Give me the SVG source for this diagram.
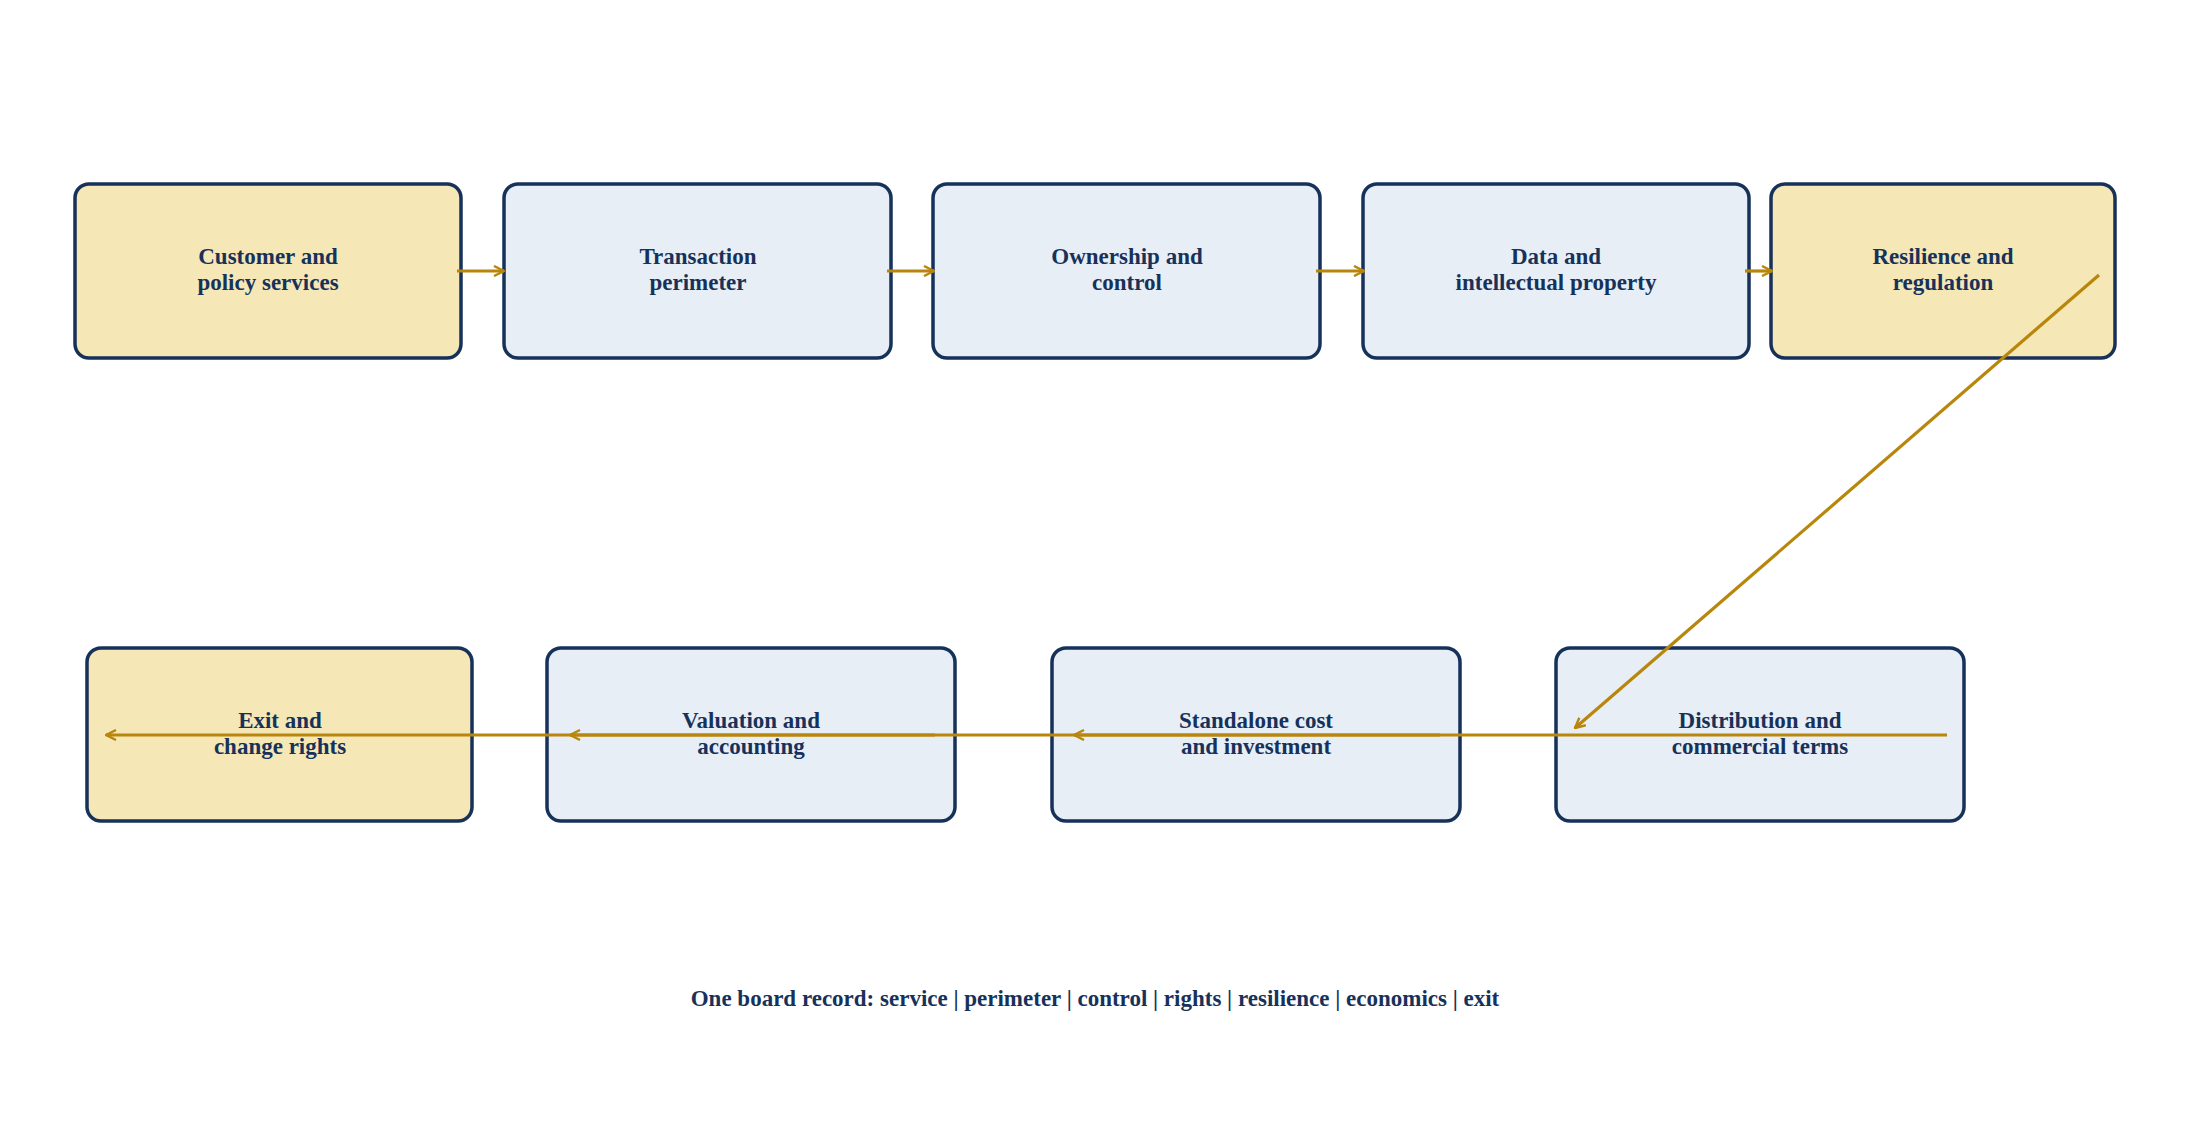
<svg xmlns="http://www.w3.org/2000/svg" width="2190" height="1134" viewBox="0 0 2190 1134">
<style>
.b{stroke:#17325a;stroke-width:3.5}
.y{fill:#f5e7b6}.l{fill:#e8eef6}
text{font-family:"Liberation Serif","Times New Roman",serif;font-weight:bold;font-size:23px;fill:#17325a;text-anchor:middle}
.c{stroke:#b8860b;stroke-width:3.2;fill:none;marker-end:url(#a)}
</style>
<defs><marker id="a" viewBox="0 0 12 12" refX="11" refY="6" markerWidth="12" markerHeight="12" markerUnits="userSpaceOnUse" orient="auto"><path d="M1,1 L11,6 L1,11" fill="none" stroke="#b8860b" stroke-width="2.4"/></marker></defs>
<rect width="2190" height="1134" fill="#fff"/>
<g id="n1"><rect class="b y" x="75" y="184" width="386" height="174" rx="14"/><text x="268" y="264">Customer and</text><text x="268" y="290">policy services</text></g>
<g id="n2"><rect class="b l" x="504" y="184" width="387" height="174" rx="14"/><text x="698" y="264">Transaction</text><text x="698" y="290">perimeter</text></g>
<g id="n3"><rect class="b l" x="933" y="184" width="387" height="174" rx="14"/><text x="1127" y="264">Ownership and</text><text x="1127" y="290">control</text></g>
<g id="n4"><rect class="b l" x="1363" y="184" width="386" height="174" rx="14"/><text x="1556" y="264">Data and</text><text x="1556" y="290">intellectual property</text></g>
<g id="n5"><rect class="b y" x="1771" y="184" width="344" height="174" rx="14"/><text x="1943" y="264">Resilience and</text><text x="1943" y="290">regulation</text></g>
<g id="n6"><rect class="b y" x="87" y="648" width="385" height="173" rx="14"/><text x="280" y="728">Exit and</text><text x="280" y="754">change rights</text></g>
<g id="n7"><rect class="b l" x="547" y="648" width="408" height="173" rx="14"/><text x="751" y="728">Valuation and</text><text x="751" y="754">accounting</text></g>
<g id="n8"><rect class="b l" x="1052" y="648" width="408" height="173" rx="14"/><text x="1256" y="728">Standalone cost</text><text x="1256" y="754">and investment</text></g>
<g id="n9"><rect class="b l" x="1556" y="648" width="408" height="173" rx="14"/><text x="1760" y="728">Distribution and</text><text x="1760" y="754">commercial terms</text></g>
<g id="connectors">
<path class="c" d="M457,271 H504"/>
<path class="c" d="M887,271 H934"/>
<path class="c" d="M1316,271 H1364"/>
<path class="c" d="M1745,271 H1772"/>
<path class="c" d="M2099,275 L1575,728"/>
<path class="c" d="M1947,735 H1074"/>
<path class="c" d="M1440,735 H570"/>
<path class="c" d="M935,735 H106"/>
</g>
<text x="1095" y="1006">One board record: service | perimeter | control | rights | resilience | economics | exit</text>
</svg>
